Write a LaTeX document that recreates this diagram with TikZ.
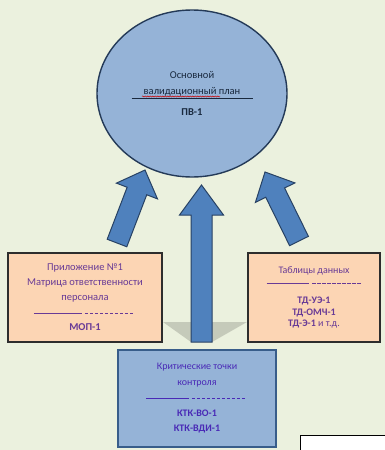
\documentclass[tikz,border=0pt]{standalone}
\usepackage{fontspec}
\setmainfont{Carlito}
\usetikzlibrary{shapes.geometric,calc,decorations.pathmorphing,positioning}

\definecolor{bgcol}{RGB}{235,241,222}
\definecolor{planfill}{RGB}{149,179,215}
\definecolor{planline}{RGB}{36,58,88}
\definecolor{arrfill}{RGB}{79,129,189}
\definecolor{arrline}{RGB}{40,66,100}
\definecolor{peach}{RGB}{252,213,180}
\definecolor{boxline}{RGB}{45,45,45}
\definecolor{ctrlline}{RGB}{56,93,138}
\definecolor{txtpurple}{RGB}{104,58,150}

% solid part, then dashed part
\newcommand{\sepline}[2]{\hbox{\rule[0.5ex]{#1pt}{0.7pt}\leaders\hbox to 5pt{\hss\rule[0.5ex]{3.2pt}{0.7pt}\hss}\hskip #2pt}}

\tikzset{
  plan/.style={ellipse, draw=planline, line width=1.4pt, fill=planfill, minimum width=190pt, minimum height=167pt,
    inner sep=0pt, align=center, text=planline!70!black, font=\fontsize{10.5}{16}\selectfont},
  infobox/.style={rectangle, draw=boxline, line width=1.6pt, fill=peach, inner sep=0pt, align=center, text=txtpurple},
  ctrlbox/.style={rectangle, draw=ctrlline, line width=2.2pt, fill=planfill, inner sep=0pt, align=center, text=txtpurple!70!blue},
  bigarrow/.style={draw=arrline, line width=1pt, fill=arrfill, line join=miter,
    to path={($(\tikztostart)!10.5pt!90:(\tikztotarget)$)
      -- ($(\tikztotarget)!{sqrt((#1)^2+10.5^2)*1pt}!{-atan(10.5/(#1))}:(\tikztostart)$)
      -- ($(\tikztotarget)!{sqrt((#1)^2+22^2)*1pt}!{-atan(22/(#1))}:(\tikztostart)$)
      -- (\tikztotarget)
      -- ($(\tikztotarget)!{sqrt((#1)^2+22^2)*1pt}!{atan(22/(#1))}:(\tikztostart)$)
      -- ($(\tikztotarget)!{sqrt((#1)^2+10.5^2)*1pt}!{atan(10.5/(#1))}:(\tikztostart)$)
      -- ($(\tikztostart)!10.5pt!-90:(\tikztotarget)$) -- cycle}},
  shadowtri/.style={fill=black!16!bgcol, draw=none},
  spellmark/.style={red!80!black, line width=0.5pt, decorate, decoration={snake, amplitude=0.6pt, segment length=2.5pt}}
}

\begin{document}
\begin{tikzpicture}[x=1pt, y=-1pt]
\fill[bgcol] (0,0) rectangle (385,450);
\clip (0,0) rectangle (385,450);

% Main plan
\node[plan] (plan) at (192,93.5) {Основной\\валидационный план\\[-11.5pt]\rule{121pt}{0.8pt}\\\textbf{ПВ-1}};
\draw[spellmark] ($(plan.center)+(-50,3)$) -- ($(plan.center)+(28,3)$);

% shadows at the foot of the middle arrow
\fill[shadowtri] (163,322) -- (191,322) -- (191,342) -- cycle;
\fill[shadowtri] (212,322) -- (247,322) -- (212,342) -- cycle;

% arrows into the plan
\coordinate (tailL) at (117,243);
\coordinate (tipL) at (145,170);
\coordinate (tailM) at (201.5,342);
\coordinate (tipM) at (201.5,185);
\coordinate (tailR) at (299,241);
\coordinate (tipR) at (265,172);
\draw[bigarrow=22.5] (tailL) to (tipL);
\draw[bigarrow=30] (tailM) to (tipM);
\draw[bigarrow=23] (tailR) to (tipR);

% Appendix, data tables, control points
\node[infobox, minimum width=154pt, minimum height=89pt, font=\fontsize{10.5}{15}\selectfont] (appx) at (85,297.5)
  {Приложение №1\\Матрица ответственности\\персонала\\\sepline{48}{54}\\\textbf{МОП-1}};
\node[infobox, minimum width=132pt, minimum height=89pt, font=\fontsize{10}{11.5}\selectfont] (data) at (314,297.5)
  {Таблицы данных\\[1.5pt]\sepline{42}{53}\\[5.5pt]\textbf{ТД-УЭ-1}\\\textbf{ТД-ОМЧ-1}\\\textbf{ТД-Э-1} и т.д.};
\node[ctrlbox, minimum width=158pt, minimum height=97pt, font=\fontsize{10}{15.5}\selectfont] (ctrl) at (197,398.5)
  {Критические точки\\контроля\\\sepline{43}{59}\\\textbf{КТК-ВО-1}\\\textbf{КТК-ВДИ-1}};

% corner of the next frame
\draw[black, line width=1pt, fill=white] (300,435) rectangle (395,460);
\end{tikzpicture}
\end{document}
